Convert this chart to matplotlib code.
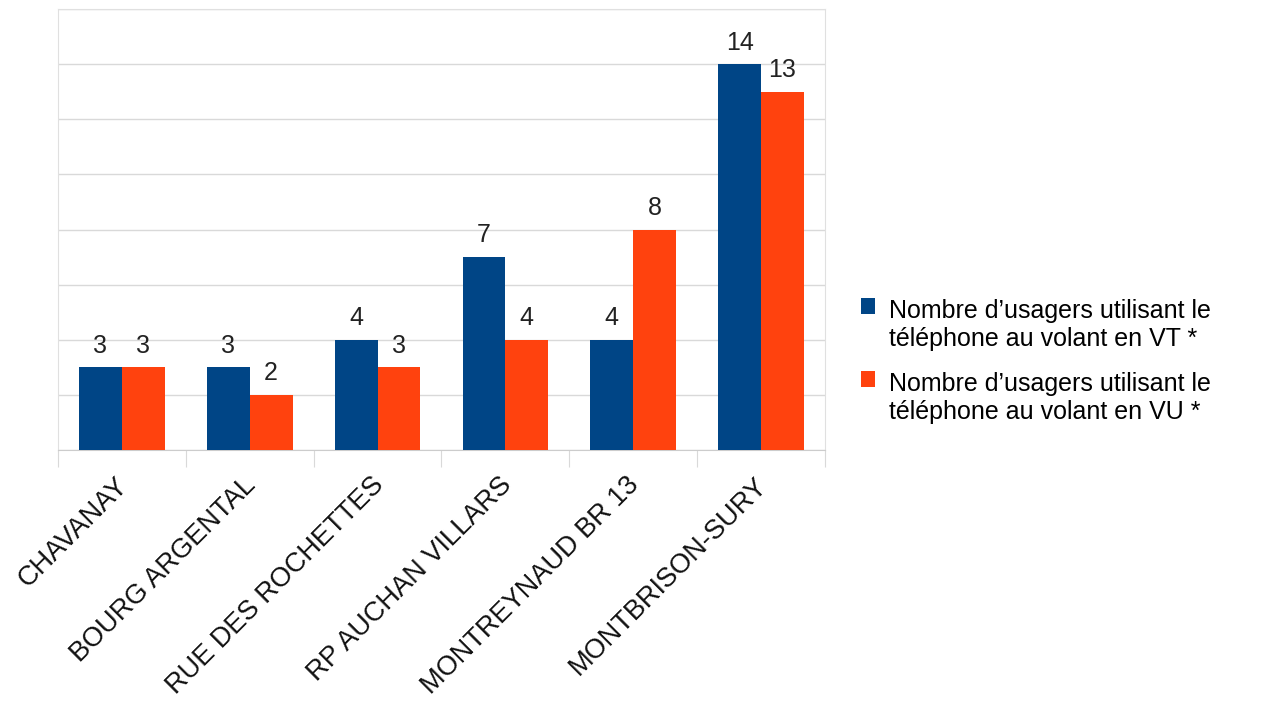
import numpy as np
import matplotlib
matplotlib.use('Agg')
import matplotlib.pyplot as plt
import matplotlib.transforms as mtransforms
from matplotlib.patches import Rectangle
from matplotlib.legend_handler import HandlerPatch
from matplotlib.container import BarContainer

sites = ['CHAVANAY', 'BOURG ARGENTAL', 'RUE DES ROCHETTES',
         'RP AUCHAN VILLARS', 'MONTREYNAUD BR 13', 'MONTBRISON-SURY']
vt = [3, 3, 4, 7, 4, 14]
vu = [3, 2, 3, 4, 8, 13]
series_names = ['Nombre d\u2019usagers utilisant le\nt\u00e9l\u00e9phone au volant en VT *',
                'Nombre d\u2019usagers utilisant le\nt\u00e9l\u00e9phone au volant en VU *']

plt.rcParams['font.family'] = ['Liberation Sans', 'DejaVu Sans']

fig = plt.figure(figsize=(12.65, 7.02), dpi=100)
ax = fig.add_axes([0.0458, 0.359, 0.6063, 0.628])

x = np.arange(len(sites))
w = 0.335
b1 = ax.bar(x - w / 2, vt, w, color='#004586', label=series_names[0], zorder=3)
b2 = ax.bar(x + w / 2, vu, w, color='#ff420e', label=series_names[1], zorder=3)

for bars in (b1, b2):
    ax.bar_label(bars, padding=7, fontsize=18, color='#222222')

ax.set_xlim(-0.5, len(sites) - 0.5)
ax.set_ylim(0, 16)
ax.set_yticks(range(0, 17, 2))
ax.set_yticklabels([])
ax.tick_params(axis='y', length=0)
ax.grid(axis='y', color='#d9d9d9', linewidth=1, zorder=0)

# category separators as ticks, names on minor ticks
ax.set_xticks(np.arange(-0.5, len(sites), 1), minor=False)
ax.set_xticklabels([])
ax.tick_params(axis='x', which='major', length=12, color='#d9d9d9')
ax.set_xticks(x, minor=True)
ax.set_xticklabels(sites, minor=True, rotation=45, ha='right',
                   rotation_mode='anchor', fontsize=19.5, color='#111111')
ax.tick_params(axis='x', which='minor', length=0, pad=16)
shift = mtransforms.ScaledTranslation(-5 / 72, 0, fig.dpi_scale_trans)
for lab in ax.get_xticklabels(minor=True):
    lab.set_transform(lab.get_transform() + shift)

for side in ['left', 'right', 'top']:
    ax.spines[side].set_color('#e0e0e0')
ax.spines['bottom'].set_color('#cccccc')


# legend square sits on the first line of each two-line label
def top_square(legend, orig_handle, xdescent, ydescent, width, height, fontsize):
    return Rectangle((-xdescent, -ydescent + 0.8 * fontsize), width, height)


def first_bar_style(tgt, src):
    tgt.update_from(src.patches[0])


ax.legend(loc='center left', bbox_to_anchor=(1.018, 0.20), frameon=False,
          fontsize=18, handlelength=0.55, handleheight=0.6, handletextpad=0.55,
          labelspacing=0.85,
          handler_map={BarContainer: HandlerPatch(patch_func=top_square,
                                                  update_func=first_bar_style)})

fig.savefig('out.png', dpi=100)
